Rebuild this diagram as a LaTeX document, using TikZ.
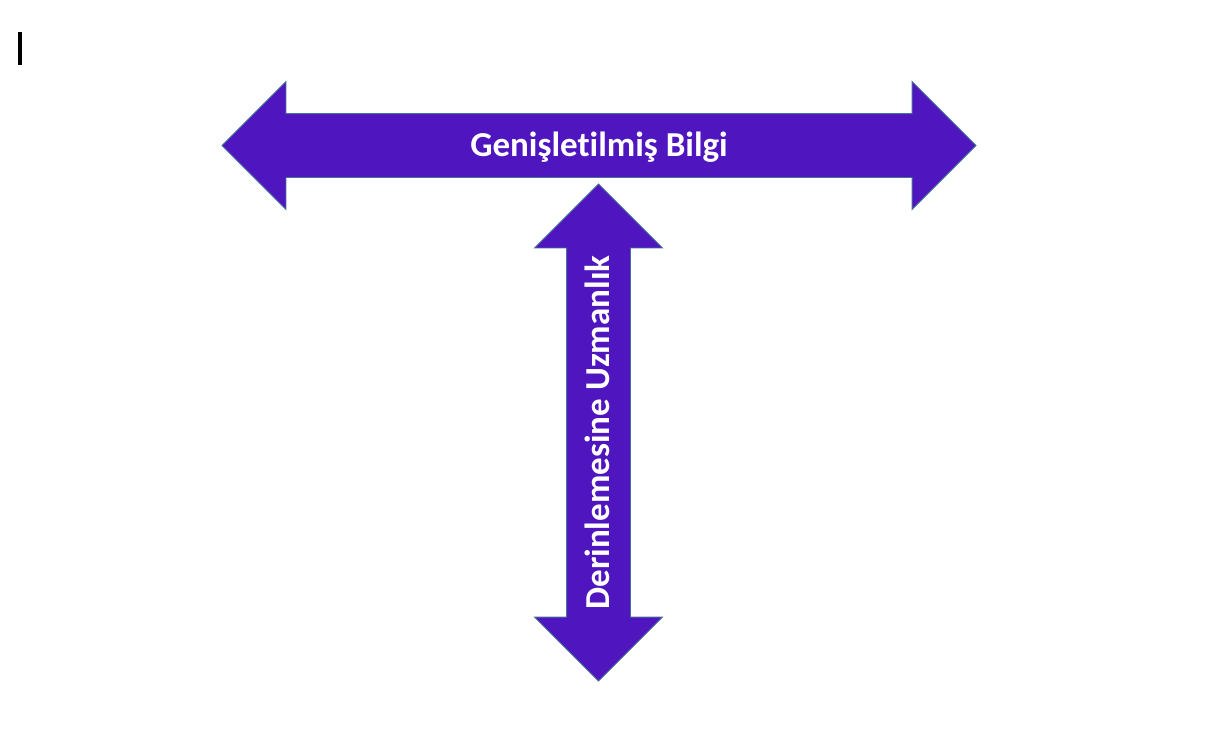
\documentclass[tikz,border=0pt]{standalone}
\usepackage{fontspec}
\setmainfont{Carlito}[Ligatures=NoCommon]
\usepackage{xcolor}
\definecolor{cviolet}{RGB}{79,22,192}
\definecolor{cedge}{RGB}{70,110,150}
\usetikzlibrary{shapes.arrows}
\tikzset{
Arrow/.style={
	draw=cedge, line width=0.8pt,
	fill=cviolet,
	double arrow,
	double arrow head extend=32pt,
	double arrow tip angle=90,
	text height=25pt, text depth=4pt,
	inner ysep=17pt, inner xsep=0pt,
	minimum width=127pt,
	text=white,
	font=\fontsize{35}{42}\selectfont\bfseries
},
Cursor/.style={
	fill=black
}
}

\begin{document}
\begin{tikzpicture}[x=1pt, y=-1pt]
	\useasboundingbox (0,0) rectangle (1218,734);
	\fill[Cursor] (18,32) rectangle (22,65);

	\node[Arrow, minimum height=754pt] (wide) at (599,145.5) {Genişletilmiş Bilgi};
	\node[Arrow, minimum height=497pt, rotate=90] (deep) at (598.5,432.5) {Derinlemesine Uzmanlık};
\end{tikzpicture}
\end{document}
